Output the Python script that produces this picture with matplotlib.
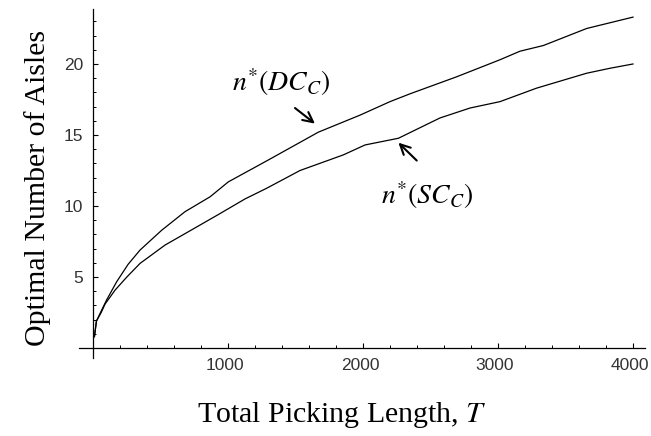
import matplotlib
matplotlib.use("Agg")
import matplotlib.pyplot as plt
import matplotlib.transforms as mtransforms
from matplotlib.ticker import MultipleLocator

plt.rcParams["mathtext.fontset"] = "stix"

# values
T_dc = [10, 25, 60, 101, 175, 260, 348, 509, 681, 867, 1002, 1300, 1669, 1978,
        2200, 2348, 2694, 3015, 3163, 3336, 3657, 4000]
n_dc = [0.8, 1.9, 2.6, 3.4, 4.67, 5.9, 6.9, 8.3, 9.6, 10.65, 11.7, 13.25, 15.2,
        16.4, 17.35, 17.9, 19.1, 20.3, 20.9, 21.3, 22.5, 23.3]

T_sc = [10, 25, 60, 89, 163, 250, 348, 533, 706, 928, 1126, 1286, 1533, 1854,
        2015, 2262, 2570, 2793, 3015, 3286, 3657, 3830, 4000]
n_sc = [0.8, 1.9, 2.5, 3.1, 4.08, 5.0, 5.96, 7.25, 8.19, 9.4, 10.5, 11.25, 12.5,
        13.6, 14.3, 14.77, 16.2, 16.9, 17.35, 18.3, 19.35, 19.7, 20.0]

x_major = [1000, 2000, 3000, 4000]
y_major = [5, 10, 15, 20]

fig = plt.figure(figsize=(6.51, 4.36), dpi=100)
ax = fig.add_axes([0.1214, 0.1789, 0.8694, 0.8014])

ax.plot(T_dc, n_dc, color="black", lw=0.9)
ax.plot(T_sc, n_sc, color="black", lw=0.9)

ax.set_xlim(-104, 4089)
ax.set_ylim(-0.7, 23.9)

# axes cross at the origin, mathematica style
for s in ["top", "right"]:
    ax.spines[s].set_visible(False)
ax.spines["left"].set_position(("data", 0))
ax.spines["bottom"].set_position(("data", 0))
ax.spines["left"].set_linewidth(0.9)
ax.spines["bottom"].set_linewidth(0.9)

ax.set_xticks(x_major)
ax.set_yticks(y_major)
ax.xaxis.set_minor_locator(MultipleLocator(200))
ax.yaxis.set_minor_locator(MultipleLocator(1))
ax.tick_params(which="major", direction="in", length=3.5, width=0.8,
               labelsize=12.5, labelcolor="#333333")
ax.tick_params(which="minor", direction="in", length=2, width=0.7)
ax.tick_params(axis="x", pad=7)
ax.tick_params(axis="y", pad=7)
for lab in ax.get_xticklabels() + ax.get_yticklabels():
    lab.set_family("Liberation Sans")
# x labels sit a little left of their ticks in the original
shift = mtransforms.ScaledTranslation(-3 / 100, 0, fig.dpi_scale_trans)
for lab in ax.get_xticklabels():
    lab.set_transform(lab.get_transform() + shift)

# labels
fig.text(0.058, 0.568, "Optimal Number of Aisles", rotation=90,
         ha="center", va="center", fontsize=21.5, family="Liberation Serif")
fig.text(0.525, 0.048, "Total Picking Length, $T$",
         ha="center", va="center", fontsize=21.5, family="Liberation Serif")

# curve labels and their arrows
ax.text(1393, 18.7, r"$n^{*}(DC_{C})$", ha="center", va="center", fontsize=20)
ax.annotate("", xy=(1644, 15.8), xytext=(1496, 16.9),
            arrowprops=dict(arrowstyle="->", lw=1.5, color="black",
                            shrinkA=0, shrinkB=0, mutation_scale=18))
ax.text(2471, 10.8, r"$n^{*}(SC_{C})$", ha="center", va="center", fontsize=20)
ax.annotate("", xy=(2262, 14.46), xytext=(2398, 13.2),
            arrowprops=dict(arrowstyle="->", lw=1.5, color="black",
                            shrinkA=0, shrinkB=0, mutation_scale=18))

fig.savefig("out.png", dpi=100)
